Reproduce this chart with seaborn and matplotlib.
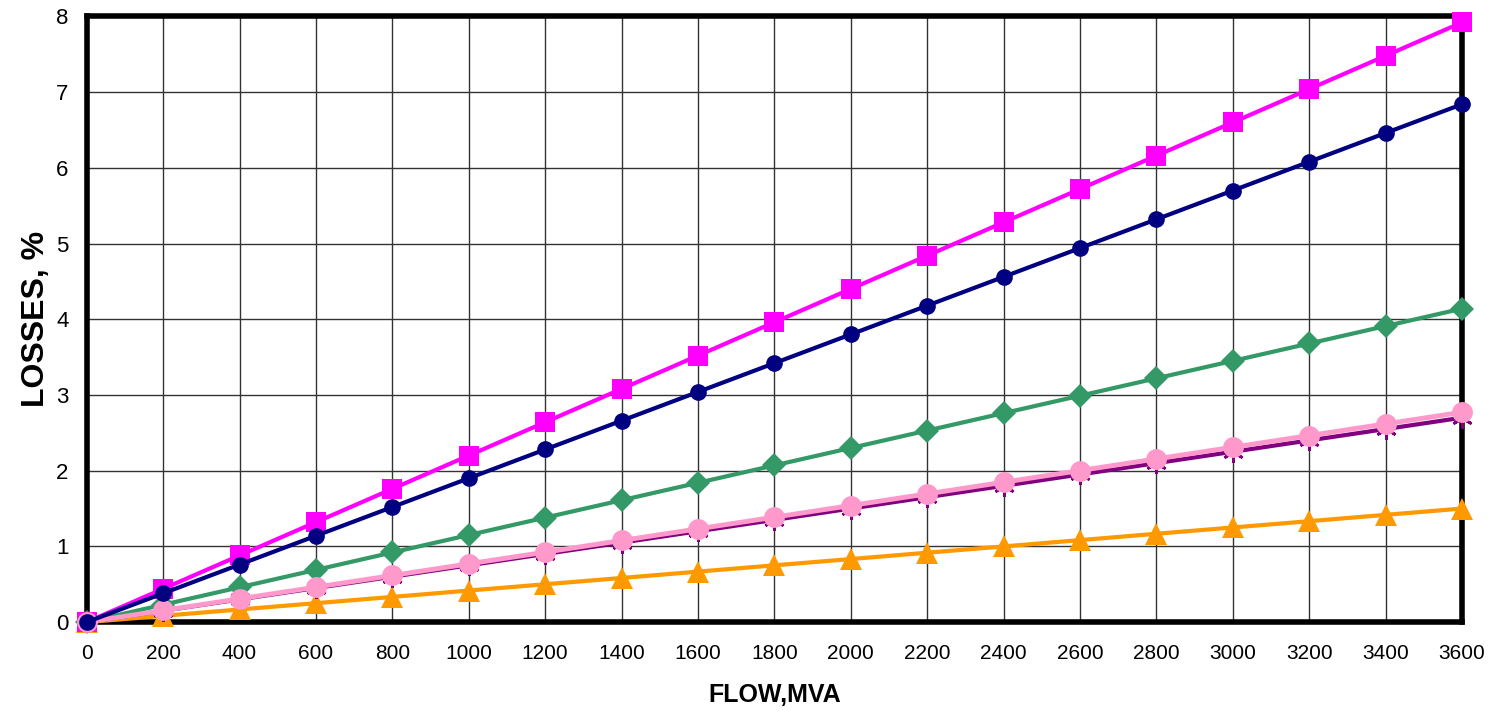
"""Losses vs. flow line chart, Excel-style."""

import matplotlib

matplotlib.use("Agg")
import matplotlib.pyplot as plt
import seaborn as sns

sns.set_style("white")
plt.rcParams["font.family"] = ["Liberation Sans", "DejaVu Sans"]

FLOW = [0, 200, 400, 600, 800, 1000, 1200, 1400, 1600, 1800, 2000,
        2200, 2400, 2600, 2800, 3000, 3200, 3400, 3600]

# losses, %
ORANGE = [0, 0.083, 0.167, 0.25, 0.333, 0.417, 0.5, 0.583, 0.667, 0.75, 0.833,
          0.917, 1.0, 1.083, 1.167, 1.25, 1.333, 1.417, 1.5]
MAGENTA = [0, 0.44, 0.88, 1.32, 1.76, 2.20, 2.64, 3.08, 3.52, 3.96, 4.40,
           4.84, 5.28, 5.72, 6.16, 6.60, 7.04, 7.48, 7.92]
GREEN = [0, 0.23, 0.46, 0.69, 0.92, 1.15, 1.38, 1.61, 1.84, 2.07, 2.30,
         2.53, 2.76, 2.99, 3.22, 3.45, 3.68, 3.91, 4.14]
PURPLE = [0, 0.15, 0.30, 0.45, 0.60, 0.75, 0.90, 1.05, 1.20, 1.35, 1.50,
          1.65, 1.80, 1.95, 2.10, 2.25, 2.40, 2.55, 2.70]
PINK = [0, 0.154, 0.308, 0.462, 0.616, 0.77, 0.924, 1.078, 1.232, 1.386, 1.54,
        1.694, 1.848, 2.002, 2.156, 2.31, 2.464, 2.618, 2.772]
NAVY = [0, 0.38, 0.76, 1.14, 1.52, 1.90, 2.28, 2.66, 3.04, 3.42, 3.80,
        4.18, 4.56, 4.94, 5.32, 5.70, 6.08, 6.46, 6.84]

# (values, colour, marker, markersize, linewidth) in draw order
SERIES = [
    (ORANGE, "#FF9900", "^", 16, 3.0),
    (MAGENTA, "#FF00FF", "s", 15, 3.0),
    (GREEN, "#339966", "D", 12, 3.0),
    (PURPLE, "#800080", (6, 2, 0), 15, 3.0),
    (PINK, "#FF99CC", "o", 15, 3.5),
    (NAVY, "#000080", "o", 12, 3.0),
]

fig, ax = plt.subplots(figsize=(14.95, 7.11), dpi=100)
fig.subplots_adjust(left=0.058, right=0.978, top=0.977, bottom=0.125)

for vals, colour, marker, ms, lw in SERIES:
    mew = 2.0 if marker == (6, 2, 0) else 0
    sns.lineplot(x=FLOW, y=vals, ax=ax, color=colour, marker=marker,
                 markersize=ms, linewidth=lw, markeredgecolor=colour,
                 markeredgewidth=mew, clip_on=False, zorder=3)

ax.set_xlim(0, 3600)
ax.set_ylim(0, 8)
ax.set_xticks(FLOW)
ax.set_yticks(range(0, 9))
ax.grid(True, color="#333333", linewidth=1.0)
ax.set_axisbelow(True)
for sp in ax.spines.values():
    sp.set_linewidth(4)
    sp.set_color("black")
ax.tick_params(axis="x", labelsize=15, length=0, pad=16, labelcolor="black")
ax.tick_params(axis="y", length=5, width=1, pad=8, labelsize=16,
               labelcolor="black", color="black")
ax.set_xlabel("FLOW,MVA", fontsize=18, fontweight="bold", labelpad=14,
              color="black")
ax.set_ylabel("LOSSES, %", fontsize=23, fontweight="bold", labelpad=4,
              color="black")

fig.savefig("out.png", dpi=100)
